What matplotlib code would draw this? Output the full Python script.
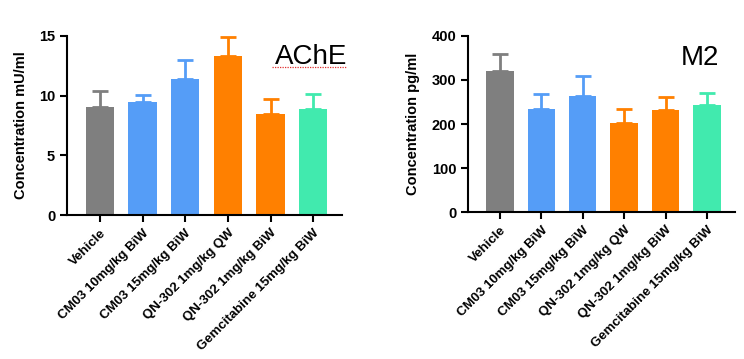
import matplotlib.pyplot as plt

plt.rcParams['font.family'] = ['Liberation Sans', 'DejaVu Sans']

groups = ['Vehicle', 'CM03 10mg/kg BiW', 'CM03 15mg/kg BiW',
          'QN-302 1mg/kg QW', 'QN-302 1mg/kg BiW', 'Gemcitabine 15mg/kg BiW']
colors = ['#7f7f7f', '#559df7', '#559df7', '#ff8000', '#ff8000', '#41eaae']

ache_mean = [9.05, 9.5, 11.4, 13.3, 8.5, 8.9]
ache_err = [1.35, 0.55, 1.6, 1.6, 1.25, 1.2]

m2_mean = [320, 235, 263, 202, 231, 244]
m2_err = [40, 33, 47, 33, 31, 27]


def panel(ax, mean, err, ylabel, title, title_x, title_y, ymax, step):
    x = list(range(len(groups)))
    ax.bar(x, mean, width=0.66, color=colors, zorder=2)
    for xi, m, e, c in zip(x, mean, err, colors):
        ax.errorbar(xi, m, yerr=[[0], [e]], color=c, capsize=5.5,
                    capthick=2, elinewidth=2, zorder=1)
    ax.set_xlim(-0.77, 5.68)
    ax.set_ylim(0, ymax)
    ax.set_yticks(range(0, ymax + 1, step))
    ax.set_xticks(x)
    ax.set_xticklabels(groups, rotation=45, ha='right', rotation_mode='anchor',
                       fontsize=9.5, fontweight='bold')
    for lbl in ax.get_yticklabels():
        lbl.set_fontweight('bold')
        lbl.set_fontsize(10.5)
    ax.set_ylabel(ylabel, fontsize=10.5, fontweight='bold', labelpad=8)
    ax.spines['top'].set_visible(False)
    ax.spines['right'].set_visible(False)
    ax.spines['left'].set_linewidth(1.5)
    ax.spines['bottom'].set_linewidth(1.5)
    ax.tick_params(width=1.5, length=5)
    ax.text(title_x, title_y, title, transform=ax.transAxes, ha='right',
            va='baseline', fontsize=20)


fig = plt.figure(figsize=(7.44, 3.59), dpi=100)
ax1 = fig.add_axes([0.090, 0.401, 0.370, 0.499])
ax2 = fig.add_axes([0.629, 0.409, 0.359, 0.491])

panel(ax1, ache_mean, ache_err, 'Concentration mU/ml', 'AChE', 1.018, 0.845, 15, 5)
panel(ax2, m2_mean, m2_err, 'Concentration pg/ml', 'M2', 0.94, 0.835, 400, 100)

# faint red squiggle under the AChE title, as in the source image
ax1.plot([0.745, 1.018], [0.828, 0.828], transform=ax1.transAxes,
         color='#e03030', lw=0.9, ls=(0, (1, 1)), clip_on=False)

fig.savefig('out.png', dpi=100)
